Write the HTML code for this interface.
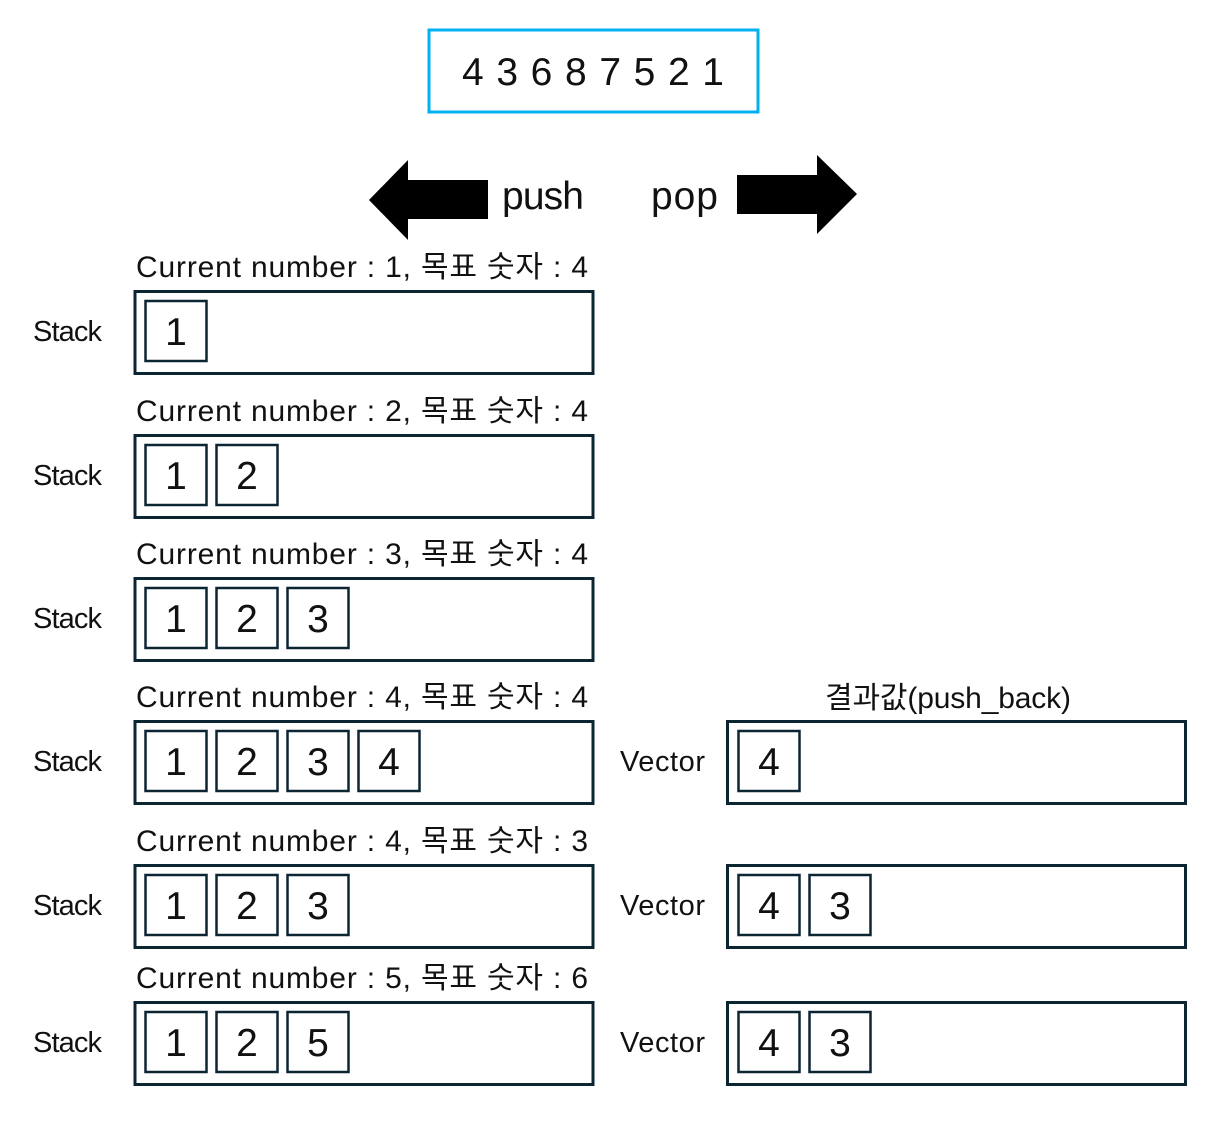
<!DOCTYPE html>
<html><head><meta charset="utf-8"><style>
html,body{margin:0;padding:0;background:#fff;}
svg{display:block;}
text{font-family:"Liberation Sans","Noto Sans CJK KR",sans-serif;fill:#111;}
</style></head><body>
<svg id="dg" width="1228" height="1143" viewBox="0 0 1228 1143" xmlns="http://www.w3.org/2000/svg">
  <rect x="429" y="30" width="329" height="82" fill="none" stroke="#00b0f0" stroke-width="3"/>
  <text x="593" y="85" font-size="39" text-anchor="middle" textLength="262">4 3 6 8 7 5 2 1</text>
  <polygon points="369,200 408,160 408,180 488,180 488,219 408,219 408,240" fill="#000"/>
  <text x="502" y="209" font-size="39" textLength="82">push</text>
  <text x="651" y="209" font-size="39" textLength="67">pop</text>
  <polygon points="737,175 817,175 817,155 857,194 817,234 817,214 737,214" fill="#000"/>
  <text x="948" y="708" font-size="30" text-anchor="middle" textLength="246">결과값(push_back)</text>
  <g id="rows"></g>
</svg>
<script>
const curNums = [1, 2, 3, 4, 4, 5];
const targets = [4, 4, 4, 4, 3, 6];
const stacks = [[1],[1,2],[1,2,3],[1,2,3,4],[1,2,3],[1,2,5]];
const vectors = [[],[],[],[4],[4,3],[4,3]];
const rowTops = [290, 434, 577, 720, 864, 1001];
const NS = "http://www.w3.org/2000/svg";
const g = document.getElementById('rows');
function mk(tag, attrs, parent){
  const e = document.createElementNS(NS, tag);
  for (const k in attrs) e.setAttribute(k, attrs[k]);
  parent.appendChild(e); return e;
}
function cells(vals, x0, top, parent, prefix){
  vals.forEach((v,i)=>{
    const cx = x0 + i*71;
    const r = mk('rect',{x:cx,y:top+11,width:61,height:60,fill:'none',stroke:'#0b2533','stroke-width':2.5},parent);
    
    
    const t = mk('text',{x:cx+30.5,y:top+55,'font-size':39,'text-anchor':'middle'},parent);
    t.textContent = v;
    
    
  });
}
rowTops.forEach((top, i)=>{
  const grp = mk('g',{},g);
  
  
  const cap = mk('text',{x:136,y:top-13,'font-size':30,textLength:452},grp);
  cap.textContent = 'Current number : ' + curNums[i] + ', 목표 숫자 : ' + targets[i];
  
  
  const sl = mk('text',{x:33,y:top+51,'font-size':29,textLength:69},grp);
  sl.textContent = 'Stack';
  
  
  const sb = mk('rect',{x:135,y:top+1.5,width:458,height:82,fill:'none',stroke:'#0b2533','stroke-width':3},grp);
  
  
  cells(stacks[i], 145.5, top, grp, 'stack');
  if (vectors[i].length){
    const vl = mk('text',{x:620,y:top+51,'font-size':29,textLength:85},grp);
    vl.textContent = 'Vector';
    
    
    const vb = mk('rect',{x:727.5,y:top+1.5,width:458,height:82,fill:'none',stroke:'#0b2533','stroke-width':3},grp);
    
    
    cells(vectors[i], 738.5, top, grp, 'vector');
  }
});
</script>
</body></html>
